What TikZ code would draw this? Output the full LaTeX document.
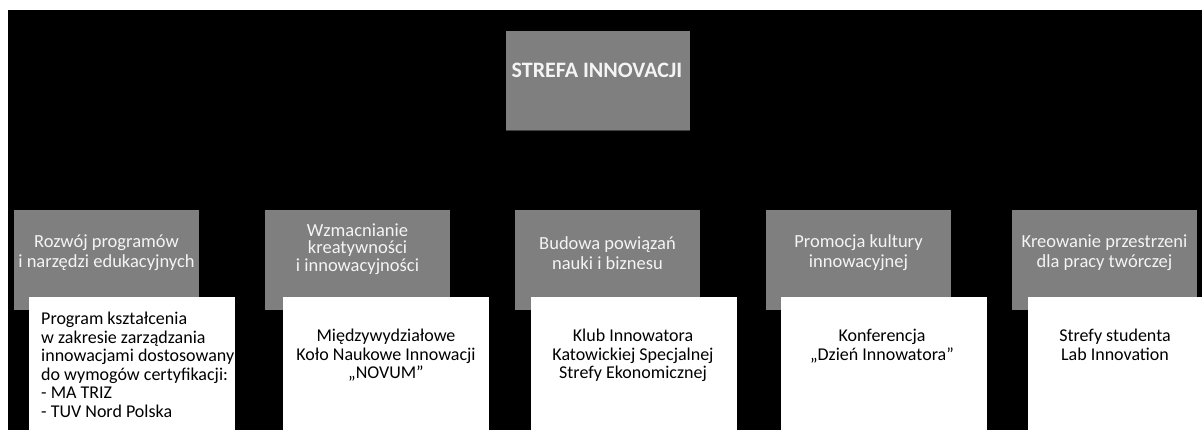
\documentclass[tikz,border=0pt]{standalone}
\usepackage{fontspec}
\setmainfont{Carlito}
\definecolor{boxgray}{HTML}{7F7F7F}
\definecolor{edgegray}{HTML}{404040}
\definecolor{paletext}{HTML}{F4F4F4}
\begin{document}
\begin{tikzpicture}[x=1pt,y=-1pt,
  backdrop/.style={fill=black},
  headbox/.style={fill=boxgray, minimum width=184pt, minimum height=99pt, anchor=north west, inner sep=0pt},
  catbox/.style={fill=boxgray, minimum width=185pt, minimum height=100pt, anchor=north west, inner sep=0pt},
  itembox/.style={fill=white, minimum width=206pt, minimum height=140pt, anchor=north west, inner sep=0pt},
  headtext/.style={text=paletext, font=\fontsize{22}{26}\selectfont\bfseries, inner sep=0pt},
  cattext/.style={text=paletext, align=center, font=\fontsize{18.5}{20}\selectfont, inner sep=0pt},
  itemtext/.style={text=black, font=\fontsize{18}{18.5}\selectfont, inner sep=0pt, anchor=north},
]
\useasboundingbox (0,0) rectangle (1202,430);
\clip (0,0) rectangle (1202,430);
\fill[backdrop] (8,10) rectangle (1202,430);

% top heading box
\node[headbox] (head) at (506,31) {};
\draw[edgegray, line width=1.2pt] (head.south west) -- (head.south east);
\node[headtext] (headlbl) at (597,70) {STREFA INNOVACJI};

% category boxes
\node[catbox] (cat1) at (14,210) {};
\node[catbox] (cat2) at (265,210) {};
\node[catbox] (cat3) at (515,210) {};
\node[catbox] (cat4) at (766,210) {};
\node[catbox] (cat5) at (1012,210) {};

\node[cattext] (cat1lbl) at (106.5,253) {Rozwój programów\\i narzędzi edukacyjnych};
\node[cattext, font=\fontsize{18.5}{17.5}\selectfont] (cat2lbl) at (357.5,249) {Wzmacnianie\\kreatywności\\i innowacyjności};
\node[cattext] (cat3lbl) at (607.5,253) {Budowa powiązań\\nauki i biznesu};
\node[cattext] (cat4lbl) at (858.5,253) {Promocja kultury\\innowacyjnej};
\node[cattext] (cat5lbl) at (1104.5,253) {Kreowanie przestrzeni\\dla pracy twórczej};

% item boxes
\node[itembox] (item1) at (29,297) {};
\node[itembox] (item2) at (283,297) {};
\node[itembox] (item3) at (531,297) {};
\node[itembox] (item4) at (781,297) {};
\node[itembox] (item5) at (1028,297) {};

\node[itemtext, anchor=north west, align=left] (item1lbl) at (41,312)
  {Program kształcenia\\w zakresie zarządzania\\innowacjami dostosowany\\do wymogów certyfikacji:\\- MA TRIZ\\- TUV Nord Polska};
\node[itemtext, align=center] (item2lbl) at (386,329) {Międzywydziałowe\\Koło Naukowe Innowacji\\„NOVUM”};
\node[itemtext, align=center] (item3lbl) at (633,329) {Klub Innowatora\\Katowickiej Specjalnej\\Strefy Ekonomicznej};
\node[itemtext, align=center] (item4lbl) at (882,329) {Konferencja\\„Dzień Innowatora”};
\node[itemtext, align=center] (item5lbl) at (1115,329) {Strefy studenta\\Lab Innovation};
\end{tikzpicture}
\end{document}
